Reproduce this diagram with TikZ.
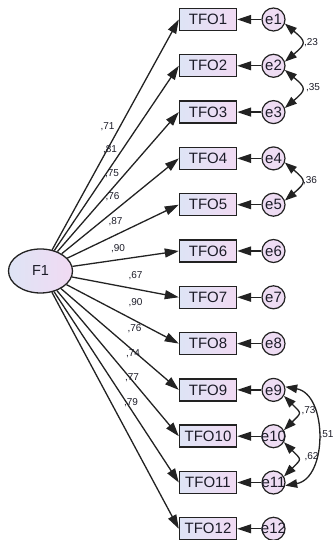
\documentclass[tikz,border=0pt]{standalone}
\usepackage{fontspec}
\setmainfont{Liberation Sans}
\usetikzlibrary{arrows.meta,shapes.geometric}
\definecolor{edgecol}{HTML}{222222}
\definecolor{fillL}{HTML}{DEE4F5}
\definecolor{fillR}{HTML}{F1DAF3}
\definecolor{circfill}{HTML}{EEDCF3}
\definecolor{txtcol}{HTML}{1C1C28}
\begin{document}
\begin{tikzpicture}[x=1pt,y=1pt,
 obs/.style={draw=edgecol, line width=1.4pt, rectangle, minimum width=57pt, minimum height=22pt, inner sep=0pt, left color=fillL, right color=fillR, font=\fontsize{15}{15}\selectfont, text=txtcol},
 err/.style={draw=edgecol, line width=1.2pt, circle, minimum size=23pt, inner sep=0pt, fill=circfill, font=\fontsize{15}{15}\selectfont, text=txtcol},
 lat/.style={draw=edgecol, line width=1.3pt, ellipse, minimum width=64pt, minimum height=44pt, inner sep=0pt, left color=fillL, right color=fillR, font=\fontsize{14.5}{14.5}\selectfont, text=txtcol},
 arr/.style={draw=edgecol, line width=1.3pt, -{Triangle[length=14pt,width=9pt]}},
 cov/.style={draw=edgecol, line width=1.3pt, {Triangle[length=12pt,width=8.5pt]}-{Triangle[length=12pt,width=8.5pt]}},
 wlab/.style={font=\fontsize{10}{10}\selectfont, text=txtcol, inner sep=0pt},
]
\useasboundingbox (0,0) rectangle (334,540);
\node[lat] (F1) at (40.5,269) {F1};
\foreach \k in {1,...,12}{
  \pgfmathsetmacro\yy{520.5-46.3*(\k-1)}
  \node[obs] (T\k) at (208,\yy) {TFO\k};
  \node[err] (e\k) at (273.5,\yy) {\makebox[0pt]{e\k}};
}
\foreach \k in {1,...,12}{
  \draw[arr] (F1) -- (T\k.west);
  \draw[arr] (e\k) -- (T\k);
}
\foreach \x/\y/\t in {107.5/413/71, 110/390/81, 112/366/75, 112.5/343/76, 115.5/318/87, 118/291/90, 135.5/264/67, 135.5/237/90, 134.5/211/76, 133/186/74, 132/162/77, 131/137/79}{
  \node[wlab] at (\x,\y) {,\t};
}
\draw[cov] (e1.-20) to[out=-40,in=40,looseness=1.9] (e2.20);
\draw[cov] (e2.-20) to[out=-40,in=40,looseness=1.9] (e3.20);
\draw[cov] (e4.-20) to[out=-40,in=40,looseness=1.9] (e5.20);
\draw[cov] (e9.-30) to[out=-45,in=45,looseness=1.9] (e10.30);
\draw[cov] (e10.-30) to[out=-45,in=45,looseness=1.9] (e11.30);
\draw[cov] (e9.15) to[out=-10,in=10,looseness=1.12] (e11.-15);
\node[wlab] at (311,497) {,23};
\node[wlab] at (313,452) {,35};
\node[wlab] at (310,359) {,36};
\node[wlab] at (308.5,129) {,73};
\node[wlab] at (311.5,83) {,62};
\node[wlab,anchor=west] at (319.3,105) {,51};
\end{tikzpicture}
\end{document}
